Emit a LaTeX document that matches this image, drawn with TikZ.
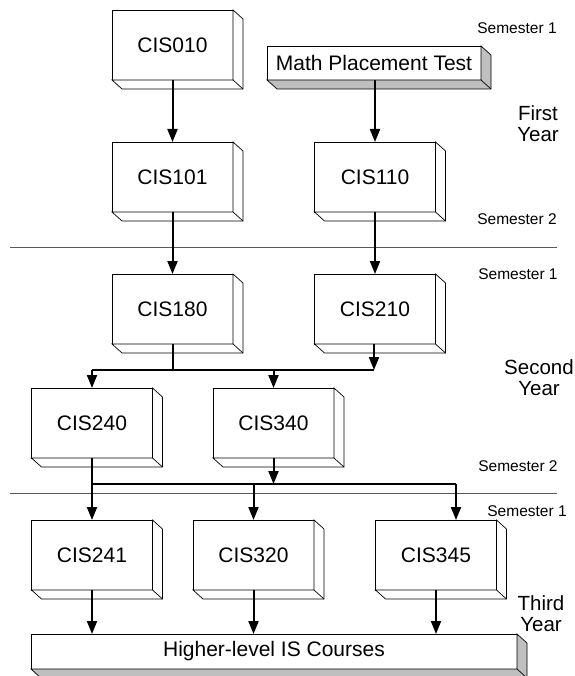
\documentclass[tikz,border=0pt]{standalone}
\usepackage{fontspec}
\setmainfont{Liberation Sans}
\usetikzlibrary{arrows.meta,calc}
\tikzset{
  course/.style={draw, fill=white, line width=0.7pt, minimum width=121pt, minimum height=70pt,
    inner sep=0pt, outer sep=0pt, font=\fontsize{21}{24}\selectfont},
  arr/.style={line width=2pt, -{Triangle[length=13pt,width=10pt]}},
  conn/.style={line width=2pt},
  sepline/.style={line width=0.8pt, draw=black!65},
  sem/.style={font=\fontsize{15.5}{18}\selectfont, inner sep=0pt},
  yearlbl/.style={font=\fontsize{20.5}{21}\selectfont, align=center, inner sep=0pt},
}
\newcommand{\boxside}[2]{%
  \draw[line width=0.7pt, fill=#2, line join=miter] (#1.north east) -- ++(10pt,-9pt)
    -- ([shift={(10pt,-9pt)}]#1.south east) -- ([shift={(10pt,-9pt)}]#1.south west)
    -- (#1.south west) -- (#1.south east) -- cycle;
  \draw[line width=0.7pt] (#1.south east) -- ++(10pt,-9pt);
}
\begin{document}
\begin{tikzpicture}[x=1pt,y=-1pt]
\useasboundingbox (0,0) rectangle (574,676);
\fill[white] (0,0) rectangle (574,676);

% separator lines
\coordinate (s1a) at (10,247); \coordinate (s1b) at (557,247);
\coordinate (s2a) at (10,493); \coordinate (s2b) at (557,493);
\draw[sepline] (s1a) -- (s1b);
\draw[sepline] (s2a) -- (s2b);

% labels
\node[sem] (l1) at (517,28) {Semester 1};
\node[yearlbl] (y1) at (538,123.5) {First\\Year};
\node[sem] (l2) at (517,219) {Semester 2};
\node[sem] (l3) at (518,274) {Semester 1};
\node[yearlbl] (y2) at (539,378) {Second\\Year};
\node[sem] (l4) at (518,466) {Semester 2};
\node[sem] (l5) at (527,511) {Semester 1};
\node[yearlbl] (y3) at (541,613.5) {Third\\Year};

% course boxes
\node[course] (c010) at (172.5,45) {CIS010};
\node[course, minimum width=214pt, minimum height=34pt] (math) at (374,63) {Math Placement Test};
\node[course] (c101) at (172.5,177) {CIS101};
\node[course] (c110) at (375,177) {CIS110};
\node[course] (c180) at (172.5,309) {CIS180};
\node[course] (c210) at (375,309) {CIS210};
\node[course] (c240) at (92,423) {CIS240};
\node[course] (c340) at (273.5,423) {CIS340};
\node[course] (c241) at (92,555) {CIS241};
\node[course] (c320) at (253.5,555) {CIS320};
\node[course] (c345) at (436,555) {CIS345};
\node[course, minimum width=486pt, minimum height=35pt] (high) at (274,651.5) {Higher-level IS Courses};

\boxside{c010}{white}
\boxside{math}{black!25}
\boxside{c101}{white}
\boxside{c110}{white}
\boxside{c180}{white}
\boxside{c210}{white}
\boxside{c240}{white}
\boxside{c340}{white}
\boxside{c241}{white}
\boxside{c320}{white}
\boxside{c345}{white}
\boxside{high}{black!25}

% connectors
\draw[arr] (c010.south) -- (c101.north);
\draw[arr] (math.south -| c110.north) -- (c110.north);
\draw[arr] (c101.south) -- (c180.north);
\draw[arr] (c110.south) -- (c210.north);

\coordinate (j1L) at (92,370);
\coordinate (j1R) at (374,370);
\draw[conn] (j1L) -- (j1R);
\draw[conn] (c180.south) -- (c180.south |- j1L);
\draw[arr] ([xshift=-1pt]c210.south) -- (j1R);
\draw[arr] (c240.north |- j1L) -- (c240.north);
\draw[arr] (c340.north |- j1L) -- (c340.north);

\coordinate (j2L) at (92,484);
\coordinate (j2R) at (456,484);
\draw[conn] (j2L) -- (j2R);
\draw[arr] (c240.south) -- (c241.north);
\draw[arr] (c340.south) -- (c340.south |- j2L);
\draw[arr] (c320.north |- j2L) -- (c320.north);
\coordinate (t345) at (456,520);
\draw[arr] (j2R) -- (t345);

\draw[arr] (c241.south) -- (c241.south |- high.north);
\draw[arr] (c320.south) -- (c320.south |- high.north);
\draw[arr] (c345.south) -- (c345.south |- high.north);
\end{tikzpicture}
\end{document}
